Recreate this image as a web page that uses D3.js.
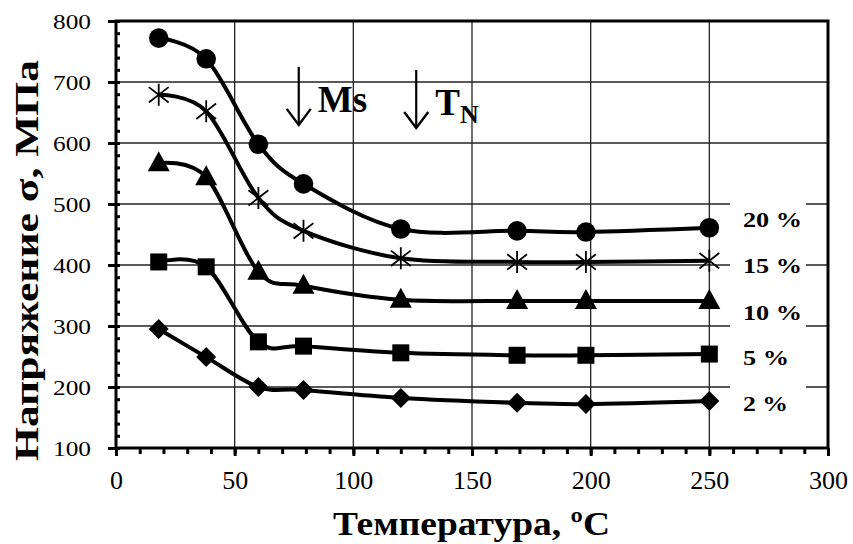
<!DOCTYPE html>
<html><head><meta charset="utf-8">
<script src="https://cdn.jsdelivr.net/npm/d3@7"></script>
<style>body{margin:0;background:#fff}svg{display:block}</style>
</head><body>
<svg id="c" width="853" height="544"></svg>
<script>
const temps = [18, 38, 60, 79, 120, 169, 198, 250];
const s20 = [772, 738, 598, 533, 459, 456, 454, 461];
const s15 = [679, 652, 510, 456, 411, 405, 405, 407];
const s10 = [567, 544, 389, 366, 343, 341, 341, 341];
const s5  = [405, 397, 274, 267, 256, 252, 252, 254];
const s2  = [295, 249, 200, 195, 182, 174, 172, 177];
const seriesNames = ["20 %", "15 %", "10 %", "5 %", "2 %"];
const seriesMarkers = ["circle", "star", "triangle", "square", "diamond"];
const labelY = [475, 400, 323, 248, 174];
const xTicks = [0, 50, 100, 150, 200, 250, 300];
const yTicks = [100, 200, 300, 400, 500, 600, 700, 800];
const xTitle = "Температура, ºC";
const yTitle = "Напряжение σ, МПа";
const annotations = [{t: 77, v: 692, text: "Ms", sub: ""}, {t: 126.5, v: 687, text: "T", sub: "N"}];

const allSeries = [s20, s15, s10, s5, s2];
const svg = d3.select("#c");
const L = 116, R = 828, T = 21, B = 448;
const x = d3.scaleLinear().domain([0, 300]).range([L, R]);
const y = d3.scaleLinear().domain([100, 800]).range([B, T]);
const font = "'Liberation Serif', 'Times New Roman', serif";

// grid
svg.append("g").selectAll("line").data(xTicks.slice(1, -1)).join("line")
  .attr("x1", d => x(d)).attr("x2", d => x(d)).attr("y1", T).attr("y2", B)
  .attr("stroke", "#222").attr("stroke-width", 1.3);
svg.append("g").selectAll("line").data(yTicks.slice(1, -1)).join("line")
  .attr("x1", L).attr("x2", R).attr("y1", d => y(d)).attr("y2", d => y(d))
  .attr("stroke", "#222").attr("stroke-width", 1.3);

// label backgrounds
svg.append("g").selectAll("rect").data(labelY).join("rect")
  .attr("x", 730).attr("width", 76).attr("y", d => y(d) - 18).attr("height", 36)
  .attr("fill", "#fff");

// axes
const xAxis = d3.axisBottom(x).tickValues(xTicks).tickSize(8).tickPadding(15);
const gx = svg.append("g").attr("transform", `translate(0,${B})`).call(xAxis);
gx.select(".domain").remove();
gx.selectAll("line").attr("stroke", "#000").attr("stroke-width", 3);
gx.selectAll("text").attr("font-family", font).attr("font-size", 26).attr("fill", "#000");
const xMinor = d3.axisBottom(x).tickValues(d3.range(0, 301, 10)).tickSize(6).tickFormat("");
const gxm = svg.append("g").attr("transform", `translate(0,${B})`).call(xMinor);
gxm.select(".domain").remove();
gxm.selectAll("line").attr("stroke", "#000").attr("stroke-width", 3);

const yAxis = d3.axisLeft(y).tickValues(yTicks).tickSize(8).tickPadding(17);
const gy = svg.append("g").attr("transform", `translate(${L},0)`).call(yAxis);
gy.select(".domain").remove();
gy.selectAll("line").attr("stroke", "#000").attr("stroke-width", 3);
gy.selectAll("text").attr("font-family", font).attr("font-size", 22).attr("fill", "#000")
  .attr("textLength", 38).attr("lengthAdjust", "spacingAndGlyphs");
const yMinor = d3.axisLeft(y).tickValues(d3.range(100, 801, 20)).tickSize(5).tickFormat("");
const gym = svg.append("g").attr("transform", `translate(${L + 4},0)`).call(yMinor);
gym.select(".domain").remove();
gym.selectAll("line").attr("stroke", "#000").attr("stroke-width", 3);

// frame
svg.append("rect").attr("x", L).attr("y", T).attr("width", R - L).attr("height", B - T)
  .attr("fill", "none").attr("stroke", "#000").attr("stroke-width", 3);

// series lines
const line = d3.line().x((d, i) => x(temps[i])).y(d => y(d)).curve(d3.curveCardinal.tension(0));
svg.append("g").selectAll("path").data(allSeries).join("path")
  .attr("d", d => line(d)).attr("fill", "none").attr("stroke", "#000").attr("stroke-width", 4);

// markers
allSeries.forEach((s, k) => {
  const m = seriesMarkers[k];
  const g = svg.append("g");
  s.forEach((v, i) => {
    const cx = x(temps[i]), cy = y(v);
    if (m === "star") {
      const r = 11;
      g.append("path").attr("d", `M${cx},${cy - r}V${cy + r}M${cx - r * 0.9},${cy - r * 0.7}L${cx + r * 0.9},${cy + r * 0.7}M${cx - r * 0.9},${cy + r * 0.7}L${cx + r * 0.9},${cy - r * 0.7}`)
        .attr("stroke", "#000").attr("stroke-width", 1.8).attr("fill", "none");
    } else if (m === "circle") {
      g.append("circle").attr("cx", cx).attr("cy", cy).attr("r", 9.8).attr("fill", "#000");
    } else if (m === "triangle") {
      g.append("path").attr("d", `M${cx},${cy - 12}L${cx + 11},${cy + 8}L${cx - 11},${cy + 8}Z`).attr("fill", "#000");
    } else if (m === "square") {
      g.append("rect").attr("x", cx - 8.5).attr("y", cy - 8.5).attr("width", 17).attr("height", 17).attr("fill", "#000");
    } else {
      g.append("path").attr("d", `M${cx},${cy - 10}L${cx + 10},${cy}L${cx},${cy + 10}L${cx - 10},${cy}Z`).attr("fill", "#000");
    }
  });
});

// series labels
const labelW = [59, 59, 59, 46, 45];
svg.append("g").selectAll("text").data(labelY).join("text")
  .attr("x", 743).attr("y", d => y(d)).attr("dy", "0.35em")
  .attr("font-family", font).attr("font-weight", "bold").attr("font-size", 22)
  .attr("textLength", (d, i) => labelW[i]).attr("lengthAdjust", "spacingAndGlyphs")
  .text((d, i) => seriesNames[i]);

// annotations
annotations.forEach(a => {
  const ax = x(a.t), ay = y(a.v);
  svg.append("line").attr("x1", ax).attr("x2", ax).attr("y1", ay - 20).attr("y2", ay + 38)
    .attr("stroke", "#000").attr("stroke-width", 2.2);
  svg.append("path").attr("d", `M${ax - 12},${ay + 22}L${ax},${ay + 38}L${ax + 12},${ay + 22}`)
    .attr("stroke", "#000").attr("stroke-width", 2.4).attr("fill", "none");
  const t = svg.append("text").attr("x", ax + 19).attr("y", ay + 25)
    .attr("font-family", font).attr("font-weight", "bold").attr("font-size", 37).text(a.text);
  if (a.sub) t.append("tspan").attr("font-size", 26).attr("dy", 8).text(a.sub);
});

// titles
svg.append("text").attr("x", 471.5).attr("y", 535).attr("text-anchor", "middle")
  .attr("font-family", font).attr("font-weight", "bold").attr("font-size", 34)
  .attr("textLength", 277).attr("lengthAdjust", "spacingAndGlyphs").text(xTitle);
svg.append("text").attr("transform", `translate(38,260.5) rotate(-90)`).attr("text-anchor", "middle")
  .attr("font-family", font).attr("font-weight", "bold").attr("font-size", 34)
  .attr("textLength", 401).attr("lengthAdjust", "spacingAndGlyphs").text(yTitle);
</script>
</body></html>
